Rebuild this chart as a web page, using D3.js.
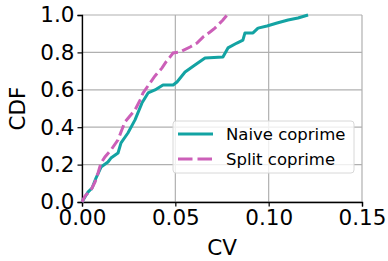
<!DOCTYPE html>
<html>
<head>
<meta charset="utf-8">
<script src="https://cdn.jsdelivr.net/npm/d3@7"></script>
<style>
  body { margin: 0; background: #fff; }
  text { font-family: "DejaVu Sans", sans-serif; }
</style>
</head>
<body>
<svg id="chart" width="388" height="261"></svg>
<script>
// CDF points: [CV, CDF]
var naiveCoprime = [
  [0, 0], [0.0032, 0.053], [0.0054, 0.075], [0.0075, 0.128], [0.0102, 0.187],
  [0.0139, 0.214], [0.0155, 0.235], [0.0193, 0.262], [0.0209, 0.316], [0.0246, 0.369],
  [0.0284, 0.439], [0.0321, 0.529], [0.0354, 0.583], [0.0391, 0.599], [0.0434, 0.626],
  [0.0488, 0.626], [0.0509, 0.642], [0.0552, 0.695], [0.0605, 0.733], [0.0659, 0.770],
  [0.0755, 0.775], [0.0782, 0.824], [0.0830, 0.850], [0.0862, 0.866], [0.0873, 0.904],
  [0.0916, 0.904], [0.0943, 0.930], [0.0991, 0.941], [0.1045, 0.957], [0.1104, 0.973],
  [0.1157, 0.984], [0.1211, 1.0]
];
var splitCoprime = [
  [0, 0], [0.0016, 0.032], [0.0048, 0.064], [0.0070, 0.107], [0.0086, 0.155],
  [0.0102, 0.209], [0.0123, 0.241], [0.0155, 0.278], [0.0193, 0.332], [0.0209, 0.374],
  [0.0230, 0.428], [0.0284, 0.492], [0.0311, 0.545], [0.0327, 0.583], [0.0364, 0.636],
  [0.0391, 0.674], [0.0429, 0.717], [0.0450, 0.749], [0.0471, 0.775], [0.0488, 0.797],
  [0.0525, 0.802], [0.0579, 0.829], [0.0616, 0.850], [0.0648, 0.882], [0.0686, 0.909],
  [0.0712, 0.930], [0.0755, 0.973], [0.0777, 1.0]
];
var seriesNames = ["Naive coprime", "Split coprime"];
var xTicks = [0, 0.05, 0.10, 0.15];
var yTicks = [0, 0.2, 0.4, 0.6, 0.8, 1.0];

var svg = d3.select("#chart");
var mLeft = 82, mRight = 362, mTop = 15, mBottom = 202;

var xScale = d3.scaleLinear().domain([0, 0.15]).range([mLeft, mRight]);
var yScale = d3.scaleLinear().domain([0, 1]).range([mBottom, mTop]);

// grid
svg.append("g").selectAll("line").data(xTicks).join("line")
  .attr("x1", d => xScale(d)).attr("x2", d => xScale(d))
  .attr("y1", mTop).attr("y2", mBottom)
  .attr("stroke", "#b0b0b0").attr("stroke-width", 1.2);
svg.append("g").selectAll("line").data(yTicks).join("line")
  .attr("x1", mLeft).attr("x2", mRight)
  .attr("y1", d => yScale(d)).attr("y2", d => yScale(d))
  .attr("stroke", "#b0b0b0").attr("stroke-width", 1.2);

// axes
var xAxis = svg.append("g")
  .attr("transform", "translate(0," + mBottom + ")")
  .call(d3.axisBottom(xScale).tickValues(xTicks).tickFormat(d3.format(".2f")).tickSize(4.5).tickPadding(3));
var yAxis = svg.append("g")
  .attr("transform", "translate(" + mLeft + ",0)")
  .call(d3.axisLeft(yScale).tickValues(yTicks).tickFormat(d3.format(".1f")).tickSize(4.5).tickPadding(3));
[xAxis, yAxis].forEach(a => {
  a.select(".domain").attr("stroke", "#000").attr("stroke-width", 1.3);
  a.selectAll(".tick line").attr("stroke", "#000").attr("stroke-width", 1.2);
  a.selectAll(".tick text").attr("font-size", 21.5).attr("fill", "#000")
    .style("font-family", "DejaVu Sans");
});
xAxis.selectAll(".tick text").attr("dy", "0.72em");

// lines
var line = d3.line().x(d => xScale(d[0])).y(d => yScale(d[1]));
svg.append("path").datum(naiveCoprime)
  .attr("d", line).attr("fill", "none")
  .attr("stroke", "#13a3a3").attr("stroke-width", 3)
  .attr("stroke-linejoin", "round");
svg.append("path").datum(splitCoprime)
  .attr("d", line).attr("fill", "none")
  .attr("stroke", "#cc5fb8").attr("stroke-width", 3)
  .attr("stroke-dasharray", "11,4.5");

// axis labels
svg.append("text").attr("x", (mLeft + mRight) / 2).attr("y", 255)
  .attr("text-anchor", "middle").attr("font-size", 21.5).text("CV");
svg.append("text")
  .attr("transform", "translate(25," + ((mTop + mBottom) / 2) + ") rotate(-90)")
  .attr("text-anchor", "middle").attr("font-size", 21.5).text("CDF");

// legend
var lg = svg.append("g");
lg.append("rect").attr("x", 173).attr("y", 121).attr("width", 181).attr("height", 52)
  .attr("rx", 3).attr("fill", "#fff").attr("fill-opacity", 0.8)
  .attr("stroke", "#d8d8d8").attr("stroke-width", 1);
var styles = [
  { color: "#13a3a3", dash: null },
  { color: "#cc5fb8", dash: "14.5,5" }
];
seriesNames.forEach((name, i) => {
  var y = 134 + i * 25;
  lg.append("line").attr("x1", 178).attr("x2", 213).attr("y1", y).attr("y2", y)
    .attr("stroke", styles[i].color).attr("stroke-width", 3)
    .attr("stroke-dasharray", styles[i].dash);
  lg.append("text").attr("x", 226).attr("y", y + 6).attr("font-size", 16.5).text(name);
});
</script>
</body>
</html>
